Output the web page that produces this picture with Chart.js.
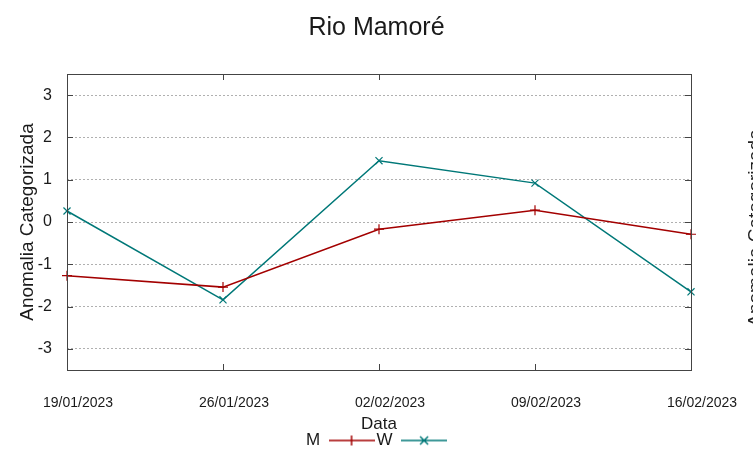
<!DOCTYPE html>
<html>
<head>
<meta charset="utf-8">
<script src="https://cdn.jsdelivr.net/npm/chart.js@4/dist/chart.umd.min.js"></script>
<style>
  html, body { margin: 0; padding: 0; background: #fff; overflow: hidden; }
</style>
</head>
<body>
<canvas id="chart" width="753" height="459"></canvas>
<script>
const dates = ['19/01/2023', '26/01/2023', '02/02/2023', '09/02/2023', '16/02/2023'];
const seriesM = [-1.27, -1.54, -0.17, 0.28, -0.29];
const seriesW = [0.26, -1.84, 1.45, 0.92, -1.65];
const yTicks = [-3, -2, -1, 0, 1, 2, 3];

const RED = '#a30000';
const TEAL = '#007878';
const FONT = "'Liberation Sans', Arial, sans-serif";

// legend sample: short line with the marker in the middle
function makeIcon(color, rotated) {
  const c = document.createElement('canvas');
  c.width = 46; c.height = 12;
  const g = c.getContext('2d');
  g.strokeStyle = color;
  g.lineWidth = 1.5;
  g.beginPath();
  g.moveTo(0, 6); g.lineTo(46, 6);
  if (rotated) {
    g.moveTo(19, 2); g.lineTo(27, 10);
    g.moveTo(27, 2); g.lineTo(19, 10);
  } else {
    g.moveTo(23, 1); g.lineTo(23, 11);
  }
  g.stroke();
  return c;
}
const icons = [makeIcon(RED, false), makeIcon(TEAL, true)];

const framePlugin = {
  id: 'frame',
  afterDraw(chart) {
    const { ctx, chartArea: a, scales } = chart;
    ctx.save();
    ctx.strokeStyle = '#444';
    ctx.lineWidth = 1;
    ctx.beginPath();
    // inward tick marks
    scales.x.ticks.forEach((t, i) => {
      const x = Math.round(scales.x.getPixelForTick(i)) + 0.5;
      ctx.moveTo(x, a.top); ctx.lineTo(x, a.top + 6);
      ctx.moveTo(x, a.bottom); ctx.lineTo(x, a.bottom - 6);
    });
    yTicks.forEach(v => {
      const y = Math.round(scales.y.getPixelForValue(v)) + 0.5;
      ctx.moveTo(a.left, y); ctx.lineTo(a.left + 6, y);
      ctx.moveTo(a.right, y); ctx.lineTo(a.right - 6, y);
    });
    ctx.stroke();
    ctx.strokeRect(Math.round(a.left) + 0.5, Math.round(a.top) + 0.5,
      Math.round(a.right - a.left), Math.round(a.bottom - a.top));
    // cut-off second axis title at the right edge
    ctx.fillStyle = '#222';
    ctx.font = '19px ' + FONT;
    ctx.textAlign = 'center';
    ctx.textBaseline = 'middle';
    ctx.translate(756, (a.top + a.bottom) / 2 + 6);
    ctx.rotate(-Math.PI / 2);
    ctx.fillText('Anomalia Categorizada', 0, 0);
    ctx.restore();
  }
};

new Chart(document.getElementById('chart'), {
  type: 'line',
  data: {
    labels: dates,
    datasets: [
      {
        label: 'M',
        data: seriesM,
        borderColor: RED,
        backgroundColor: RED,
        borderWidth: 1.5,
        pointStyle: 'cross',
        pointRadius: 5,
        pointBorderWidth: 1.2,
        tension: 0,
        fill: false,
      },
      {
        label: 'W',
        data: seriesW,
        borderColor: TEAL,
        backgroundColor: TEAL,
        borderWidth: 1.5,
        pointStyle: 'crossRot',
        pointRadius: 5,
        pointBorderWidth: 1.2,
        tension: 0,
        fill: false,
      },
    ],
  },
  options: {
    responsive: false,
    animation: false,
    layout: { padding: 0 },
    plugins: {
      title: {
        display: true,
        text: 'Rio Mamoré',
        color: '#1a1a1a',
        font: { family: FONT, size: 25, weight: 'normal', lineHeight: 1.2 },
        padding: { top: 13, bottom: 31 },
      },
      legend: {
        position: 'bottom',
        rtl: true,
        reverse: true,
        labels: {
          usePointStyle: true,
          pointStyleWidth: 46,
          padding: 2,
          color: '#1a1a1a',
          font: { family: FONT, size: 17 },
          generateLabels(chart) {
            const items = Chart.defaults.plugins.legend.labels.generateLabels(chart);
            items.forEach(it => { it.pointStyle = icons[it.datasetIndex]; });
            return items;
          },
        },
      },
      tooltip: { enabled: false },
    },
    scales: {
      x: {
        offset: false,
        grid: { display: false, drawTicks: false },
        border: { display: false },
        ticks: {
          color: '#1a1a1a',
          font: { family: FONT, size: 14 },
          padding: 25,
          labelOffset: 11,
          maxRotation: 0,
          autoSkip: false,
        },
        title: {
          display: true,
          text: 'Data',
          color: '#1a1a1a',
          font: { family: FONT, size: 17, lineHeight: 1 },
          padding: { top: 0, bottom: -3 },
        },
        afterFit(s) { s.height = 60; },
      },
      y: {
        min: -3.5,
        max: 3.5,
        afterBuildTicks(s) { s.ticks = yTicks.map(v => ({ value: v })); },
        grid: {
          color: '#b0b0b0',
          lineWidth: 1,
          drawTicks: false,
        },
        border: { display: false, dash: [2, 2] },
        ticks: {
          color: '#1a1a1a',
          font: { family: FONT, size: 16 },
          padding: 15,
        },
        title: {
          display: true,
          text: 'Anomalia Categorizada',
          color: '#1a1a1a',
          font: { family: FONT, size: 19, lineHeight: 1.2 },
          padding: { top: 16, bottom: 0 },
        },
        afterFit(s) { s.width = 67; },
      },
      y2: {
        position: 'right',
        min: -3.5,
        max: 3.5,
        grid: { display: false, drawTicks: false },
        border: { display: false },
        ticks: { display: false },
        afterFit(s) { s.width = 62; },
      },
    },
  },
  plugins: [framePlugin],
});
</script>
</body>
</html>
